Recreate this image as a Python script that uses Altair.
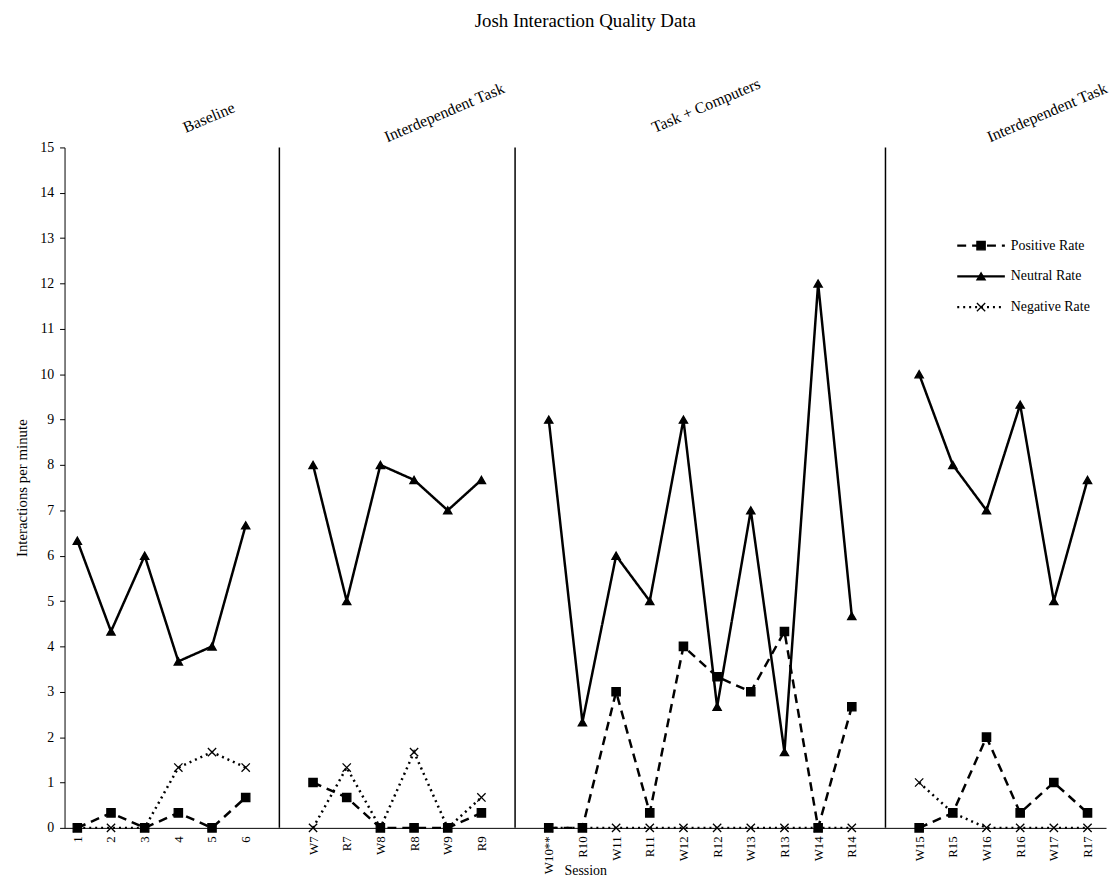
import json
import altair as alt
import pandas as pd

# ---------------- data ----------------
phase_names = ["Baseline", "Interdependent Task", "Task + Computers", "Interdependent Task"]
phase_sessions = [
    ["1", "2", "3", "4", "5", "6"],
    ["W7", "R7", "W8", "R8", "W9", "R9"],
    ["W10**", "R10", "W11", "R11", "W12", "R12", "W13", "R13", "W14", "R14"],
    ["W15", "R15", "W16", "R16", "W17", "R17"],
]
positive_rate = [
    [0, 0.33, 0, 0.33, 0, 0.67],
    [1, 0.67, 0, 0, 0, 0.33],
    [0, 0, 3, 0.33, 4, 3.33, 3, 4.33, 0, 2.67],
    [0, 0.33, 2, 0.33, 1, 0.33],
]
neutral_rate = [
    [6.33, 4.33, 6, 3.67, 4, 6.67],
    [8, 5, 8, 7.67, 7, 7.67],
    [9, 2.33, 6, 5, 9, 2.67, 7, 1.67, 12, 4.67],
    [10, 8, 7, 9.33, 5, 7.67],
]
negative_rate = [
    [0, 0, 0, 1.33, 1.67, 1.33],
    [0, 1.33, 0, 1.67, 0, 0.67],
    [0, 0, 0, 0, 0, 0, 0, 0, 0, 0],
    [1, 0.33, 0, 0, 0, 0],
]
series_names = ["Positive Rate", "Neutral Rate", "Negative Rate"]

# ---------------- layout (not data) ----------------
phase_label_x = [4.91, 11.9, 19.67, 29.8]     # label anchor along the session axis
phase_label_dy = [-30, -35, -42, -35]        # pixels above plot top
legend_row_y = [99, 130, 161]                # pixels from plot top
LEG_X1, LEG_X2, LEG_XM, LEG_XT = 900, 948, 924, 954

rows = []
rule_pos = []
tick_pos = []
labels_by_pos = [""] * 40
pos = 0
for p, sess in enumerate(phase_sessions):
    for j, s in enumerate(sess):
        pos += 1
        tick_pos.append(pos)
        labels_by_pos[pos] = s
        for name, arr in zip(series_names, [positive_rate, neutral_rate, negative_rate]):
            rows.append({"pos": pos, "session": s, "phase": p, "Series": name, "value": arr[p][j]})
    if p < len(phase_sessions) - 1:
        pos += 1
        rule_pos.append(pos)

df = pd.DataFrame(rows)
rules_df = pd.DataFrame({"pos": rule_pos, "value": [0] * len(rule_pos), "top": [15] * len(rule_pos)})
phase_df = pd.DataFrame({"name": phase_names, "pos": phase_label_x, "ly": phase_label_dy})
legend_df = pd.DataFrame({
    "Series": series_names,
    "ly": legend_row_y,
    "x1": [LEG_X1] * 3,
    "x2": [LEG_X2] * 3,
    "xm": [LEG_XM] * 3,
    "xt": [LEG_XT] * 3,
})

FONT = "Liberation Serif"
xscale = alt.Scale(domain=[0.62, 31.55], nice=False, zero=False)
yscale = alt.Scale(domain=[0, 15], nice=False)

x_enc = alt.X(
    "pos:Q",
    scale=xscale,
    axis=alt.Axis(
        title="Session",
        values=tick_pos,
        labelExpr=json.dumps(labels_by_pos) + "[datum.value]",
        labelAngle=270,
        labelFont=FONT,
        labelFontSize=13,
        labelColor="black",
        titleFont=FONT,
        titleFontSize=14,
        titleFontWeight="normal",
        titleColor="black",
        titleY=43,
        titleBaseline="middle",
        grid=False,
        domainColor="black",
        ticks=False,
        labelPadding=8,
        labelOverlap=False,
        labelBound=False,
        labelFlush=False,
    ),
)
y_enc = alt.Y(
    "value:Q",
    scale=yscale,
    axis=alt.Axis(
        title="Interactions per minute",
        values=list(range(0, 16)),
        labelFont=FONT,
        labelFontSize=14,
        labelColor="black",
        titleFont=FONT,
        titleFontSize=15,
        titleFontWeight="normal",
        titleColor="black",
        grid=False,
        domainColor="black",
        tickColor="black",
        tickSize=5,
        labelPadding=6,
        titlePadding=10,
        labelOverlap=False,
    ),
)

dash_scale = alt.Scale(domain=series_names, range=[[9, 6], [1, 0], [2, 4]])
shape_scale = alt.Scale(domain=series_names, range=["square", "triangle-up", "M-1,-1L1,1M-1,1L1,-1"])

lines = alt.Chart(df).mark_line(color="black", strokeWidth=2.5).encode(
    x=x_enc,
    y=y_enc,
    detail="phase:N",
    strokeDash=alt.StrokeDash("Series:N", scale=dash_scale, legend=None),
)

points = alt.Chart(df).mark_point(
    filled=True, color="black", stroke="black", strokeWidth=1.3, size=70, opacity=1
).encode(
    x=x_enc,
    y=y_enc,
    shape=alt.Shape("Series:N", scale=shape_scale, legend=None),
)

rules = alt.Chart(rules_df).mark_rule(color="black", strokeWidth=1.5).encode(
    x=x_enc, y=y_enc, y2="top:Q"
)

phase_text = alt.Chart(phase_df).mark_text(
    angle=337, font=FONT, fontSize=16, align="center", baseline="middle", color="black"
).encode(
    x=x_enc,
    y=alt.Y("ly:Q", scale=None),
    text="name:N",
)

legend_lines = alt.Chart(legend_df).mark_rule(color="black", strokeWidth=2.5).encode(
    x=alt.X("x1:Q", scale=None),
    x2="x2:Q",
    y=alt.Y("ly:Q", scale=None),
    strokeDash=alt.StrokeDash("Series:N", scale=dash_scale, legend=None),
)
legend_marks = alt.Chart(legend_df).mark_point(
    filled=True, color="black", stroke="black", strokeWidth=1.3, size=70, opacity=1
).encode(
    x=alt.X("xm:Q", scale=None),
    y=alt.Y("ly:Q", scale=None),
    shape=alt.Shape("Series:N", scale=shape_scale, legend=None),
)
legend_text = alt.Chart(legend_df).mark_text(
    font=FONT, fontSize=14, align="left", baseline="middle", color="black"
).encode(
    x=alt.X("xt:Q", scale=None),
    y=alt.Y("ly:Q", scale=None),
    text="Series:N",
)

chart = alt.layer(
    rules, lines, points, phase_text, legend_lines, legend_marks, legend_text
).properties(
    width=1050,
    height=686,
    padding={"left": 7, "top": 0, "right": 0, "bottom": 0},
    title=alt.TitleParams(
        "Josh Interaction Quality Data",
        font=FONT,
        fontSize=19,
        fontWeight="normal",
        color="black",
        anchor="middle",
        offset=45,
    ),
).configure_view(stroke=None)

chart.save("out.html", embed_options={"renderer": "svg", "actions": False})
